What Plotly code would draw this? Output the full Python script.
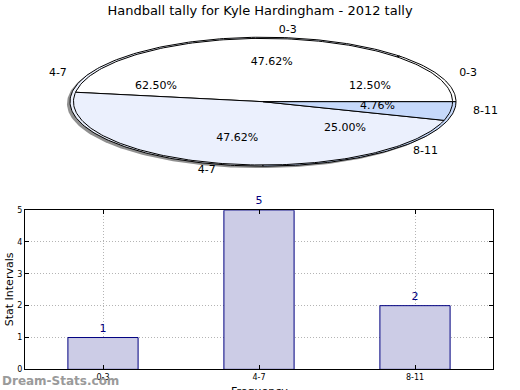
import numpy as np
import plotly.graph_objects as go

title = "Handball tally for Kyle Hardingham - 2012 tally"
categories = ["0-3", "4-7", "8-11"]
bar_values = [1, 5, 2]
pie_a_values = [1, 5, 2]
pie_b_values = [10, 10, 1]
slice_colors = ["#FFFFFF", "#EBF0FD", "#C6D9FB"]
y_ticks = [0, 1, 2, 3, 4, 5]
x_title = "Frequency"
y_title = "Stat Intervals"
watermark = "Dream-Stats.com"

W, H = 520, 390
CX, CY, RX, RY = 263, 100, 193, 66
FONT = "DejaVu Sans"

fig = go.Figure()


def ellipse_pt(t, scale, dx=0.0, dy=0.0):
    return CX + dx + scale * RX * np.cos(t), CY + dy - scale * RY * np.sin(t)


# shadow
tt = np.linspace(0, 2 * np.pi, 300)
sx, sy = ellipse_pt(tt, 1.0, -3, 2)
fig.add_trace(go.Scatter(x=sx, y=sy, mode="lines", fill="toself",
                         fillcolor="#909090", line=dict(width=0, color="#909090"),
                         xaxis="x2", yaxis="y2", hoverinfo="skip", showlegend=False))

pct_texts = []
cat_texts = []


def draw_pie(values, scale):
    total = float(sum(values))
    start = 0.0
    for i, v in enumerate(values):
        frac = v / total
        end = start + frac * 2 * np.pi
        t = np.linspace(start, end, max(int(frac * 300), 3))
        xs, ys = ellipse_pt(t, scale)
        xs = np.concatenate([[CX], xs, [CX]])
        ys = np.concatenate([[CY], ys, [CY]])
        fig.add_trace(go.Scatter(x=xs, y=ys, mode="lines", fill="toself",
                                 fillcolor=slice_colors[i],
                                 line=dict(color="#000000", width=1),
                                 xaxis="x2", yaxis="y2", hoverinfo="skip",
                                 showlegend=False))
        mid = (start + end) / 2
        px, py = ellipse_pt(mid, 0.6)
        lx, ly = ellipse_pt(mid, 1.1)
        pct_texts.append(("%.2f%%" % (frac * 100), px, py - 1))
        side = "middle right" if np.cos(mid) > 0 else "middle left"
        cat_texts.append((categories[i], lx, ly - 1, side))
        start = end


draw_pie(pie_a_values, 1.0)
draw_pie(pie_b_values, 0.982)

fig.add_trace(go.Scatter(x=[p[1] for p in pct_texts], y=[p[2] for p in pct_texts],
                         text=[p[0] for p in pct_texts], mode="text",
                         textfont=dict(family=FONT, size=11, color="#000000"),
                         xaxis="x2", yaxis="y2", hoverinfo="skip", showlegend=False))
fig.add_trace(go.Scatter(x=[p[1] for p in cat_texts], y=[p[2] for p in cat_texts],
                         text=[p[0] for p in cat_texts], mode="text",
                         textposition=[p[3] for p in cat_texts],
                         textfont=dict(family=FONT, size=11, color="#000000"),
                         xaxis="x2", yaxis="y2", hoverinfo="skip", showlegend=False))

# bar chart
fig.add_trace(go.Bar(x=categories, y=bar_values, width=0.45,
                     marker=dict(color="#CCCCE6", line=dict(color="#000080", width=1)),
                     text=[str(v) for v in bar_values], textposition="outside",
                     textfont=dict(family=FONT, size=11, color="#000080"),
                     cliponaxis=False, showlegend=False))

PLOT_TOP, PLOT_BOTTOM = 211, 374

fig.update_layout(
    width=W, height=H, autosize=False,
    margin=dict(l=0, r=0, t=0, b=0),
    paper_bgcolor="white", plot_bgcolor="rgba(0,0,0,0)",
    font=dict(family=FONT, color="#000000"),
    title=dict(text=title, x=0.5, xanchor="center", y=1 - 10 / H, yanchor="middle",
               font=dict(family=FONT, size=13, color="#000000")),
    xaxis=dict(domain=[25 / W, 493 / W], range=[-0.5, 2.5], type="category",
               showline=True, linecolor="#000000", linewidth=1, mirror="ticks",
               ticks="inside", ticklen=4, tickcolor="#000000",
               tickfont=dict(size=8, family=FONT),
               showgrid=True, gridcolor="#b4b4b4", griddash="1px,2px", gridwidth=1,
               zeroline=False, anchor="y"),
    yaxis=dict(domain=[(H - PLOT_BOTTOM) / H, (H - PLOT_TOP) / H], range=[0, 5],
               tickvals=y_ticks, showline=True, linecolor="#000000", linewidth=1,
               mirror="ticks", ticks="inside", ticklen=4, tickcolor="#000000",
               tickfont=dict(size=8, family=FONT),
               showgrid=True, gridcolor="#b4b4b4", griddash="1px,2px", gridwidth=1,
               zeroline=False, anchor="x"),
    xaxis2=dict(domain=[0, 1], range=[0, W], visible=False, anchor="y2"),
    yaxis2=dict(domain=[0, 1], range=[H, 0], visible=False, anchor="x2"),
    annotations=[
        dict(text=x_title, xref="paper", yref="paper", x=259 / W, y=(H - 397) / H,
             xanchor="center", yanchor="middle", showarrow=False,
             font=dict(size=11, family=FONT, color="#000000")),
        dict(text=y_title, xref="paper", yref="paper", x=9 / W, y=(H - 292) / H,
             xanchor="center", yanchor="middle", textangle=-90, showarrow=False,
             font=dict(size=11, family=FONT, color="#000000")),
        dict(text="<b>" + watermark + "</b>", xref="paper", yref="paper",
             x=0, y=(H - 386) / H, xanchor="left", yanchor="middle", showarrow=False,
             font=dict(size=12, family=FONT, color="#9a9a9a")),
    ],
)

fig.write_html("out.html",
               config={"displayModeBar": False, "responsive": False},
               default_width="520px", default_height="390px",
               post_script="document.body.style.margin='0';document.body.style.overflow='hidden';")
